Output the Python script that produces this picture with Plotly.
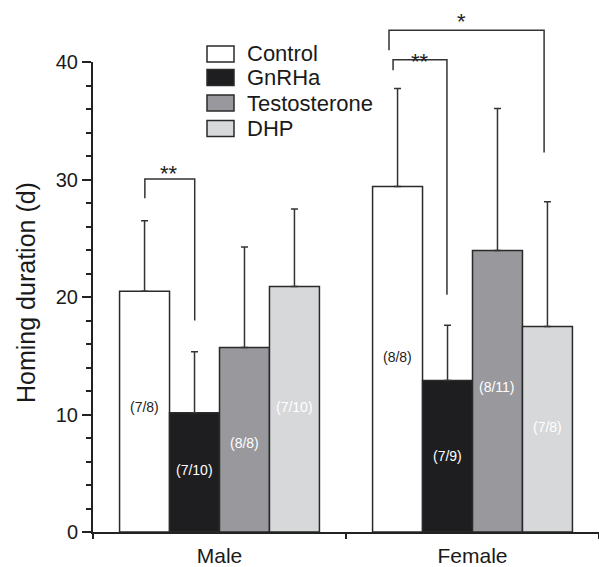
import plotly.graph_objects as go

# ---------------- data ----------------
treatments = ["Control", "GnRHa", "Testosterone", "DHP"]
sexes = ["Male", "Female"]
sex_pos = [0.5, 1.5]

mean_male = [20.5, 10.15, 15.7, 20.9]
mean_female = [29.4, 12.9, 23.95, 17.5]
sd_male = [6.0, 5.2, 8.55, 6.6]
sd_female = [8.35, 4.7, 12.1, 10.6]
n_male = ["(7/8)", "(7/10)", "(8/8)", "(7/10)"]
n_female = ["(8/8)", "(7/9)", "(8/11)", "(7/8)"]
label_y_male = [10.6, 5.3, 7.6, 10.6]
label_y_female = [14.9, 6.5, 12.3, 8.9]

# significance brackets (x in axis units, y in data units)
br_x0 = [0.205, 1.186, 1.170]
br_x1 = [0.402, 1.399, 1.783]
br_top = [30.05, 40.2, 42.7]
br_left_end = [28.4, 39.3, 41.0]
br_right_end = [18.0, 20.2, 32.3]
br_text = ["**", "**", "*"]
star_x = [0.300, 1.292, 1.455]
star_y = [30.94, 40.51, 43.86]

y_ticks = [0, 10, 20, 30, 40]

# ---------------- style ----------------
fills = ["#ffffff", "#1e1e21", "#99989d", "#d7d8da"]
label_colors = ["#222222", "#ffffff", "#ffffff", "#ffffff"]
edge = "#2a2a2a"
FONT = "Liberation Sans, Arial, Helvetica, sans-serif"

W, H = 599, 567
ML, MR, MT, MB = 93, 0, 0, 35
plot_h = H - MT - MB
y_top_px = 62  # pixel where y=40 sits
Y_MAX = 40
y_dom_top = (H - MB - y_top_px) / plot_h
bargap = 0.21
bar_w = (1 - bargap) / len(treatments)


def ypaper(v):
    return v / Y_MAX * y_dom_top


def bar_center(g, i):
    return sex_pos[g] + (i - (len(treatments) - 1) / 2) * bar_w


fig = go.Figure()
for i, t in enumerate(treatments):
    fig.add_trace(go.Bar(
        name=t,
        x=sex_pos,
        y=[mean_male[i], mean_female[i]],
        marker=dict(color=fills[i], line=dict(color=edge, width=1.5)),
        error_y=dict(type="data", symmetric=False,
                     array=[sd_male[i], sd_female[i]], arrayminus=[0, 0],
                     color="#333333", thickness=1.5, width=3.5),
        showlegend=False,
    ))

annotations = []
shapes = []

# bar n labels
for g, (labels, ly) in enumerate([(n_male, label_y_male), (n_female, label_y_female)]):
    for i in range(len(treatments)):
        annotations.append(dict(
            x=bar_center(g, i), y=ly[i], xref="x", yref="y",
            text=labels[i], showarrow=False,
            font=dict(family=FONT, size=14, color=label_colors[i]),
            xanchor="center", yanchor="middle"))

# significance brackets
for k in range(len(br_text)):
    path = (f"M{br_x0[k]},{ypaper(br_left_end[k])} L{br_x0[k]},{ypaper(br_top[k])} "
            f"L{br_x1[k]},{ypaper(br_top[k])} L{br_x1[k]},{ypaper(br_right_end[k])}")
    shapes.append(dict(type="path", path=path, xref="x", yref="paper",
                       line=dict(color="#333333", width=1.5)))
    annotations.append(dict(
        x=star_x[k], y=ypaper(star_y[k]), xref="x", yref="paper",
        text=br_text[k], showarrow=False, yshift=-5,
        font=dict(family=FONT, size=22, color="#222222"),
        xanchor="center", yanchor="middle"))

# custom legend
plot_w = W - ML - MR
leg_x0 = (207 - ML) / plot_w
leg_x1 = (234 - ML) / plot_w
leg_tx = (245 - ML) / plot_w
leg_rows_px = [54, 77.5, 103, 128.5]
for i, t in enumerate(treatments):
    cy = leg_rows_px[i]
    shapes.append(dict(type="rect", xref="paper", yref="paper",
                       x0=leg_x0, x1=leg_x1,
                       y0=(H - MB - (cy + 8)) / plot_h, y1=(H - MB - (cy - 8)) / plot_h,
                       fillcolor=fills[i], line=dict(color=edge, width=1.5)))
    annotations.append(dict(
        x=leg_tx, y=(H - MB - cy) / plot_h, xref="paper", yref="paper",
        text=t, showarrow=False, xanchor="left", yanchor="middle",
        font=dict(family=FONT, size=22, color="#1a1a1a")))

# y axis title
annotations.append(dict(
    x=(26 - ML) / plot_w, y=(H - MB - 293) / plot_h, xref="paper", yref="paper",
    text="Homing duration (d)", showarrow=False, textangle=-90,
    xanchor="center", yanchor="middle",
    font=dict(family=FONT, size=25, color="#1a1a1a")))

fig.update_layout(
    width=W, height=H,
    margin=dict(l=ML, r=MR, t=MT, b=MB, autoexpand=False),
    paper_bgcolor="white", plot_bgcolor="white",
    barmode="group", bargap=bargap, bargroupgap=0,
    font=dict(family=FONT, color="#1a1a1a"),
    shapes=shapes, annotations=annotations,
    showlegend=False,
    xaxis=dict(range=[0, 2], tickvals=sex_pos, ticktext=sexes, ticks="",
               automargin=False, ticklabelstandoff=4,
               showline=True, linecolor="#222222", linewidth=2,
               showgrid=False, zeroline=False,
               tickfont=dict(family=FONT, size=21, color="#1a1a1a"),
               minor=dict(tickvals=[0, 1, 2], ticks="outside", ticklen=5,
                          tickcolor="#222222", tickwidth=1.5, showgrid=False)),
    yaxis=dict(range=[0, Y_MAX], domain=[0, y_dom_top], tickvals=y_ticks,
               automargin=False,
               ticks="outside", ticklen=9, tickwidth=1.5, tickcolor="#222222",
               showline=True, linecolor="#222222", linewidth=2,
               showgrid=False, zeroline=False,
               tickfont=dict(family=FONT, size=20, color="#1a1a1a"),
               minor=dict(dtick=2, ticks="outside", ticklen=5, tickwidth=1.5,
                          tickcolor="#222222", showgrid=False)),
)

fig.write_html("out.html")
